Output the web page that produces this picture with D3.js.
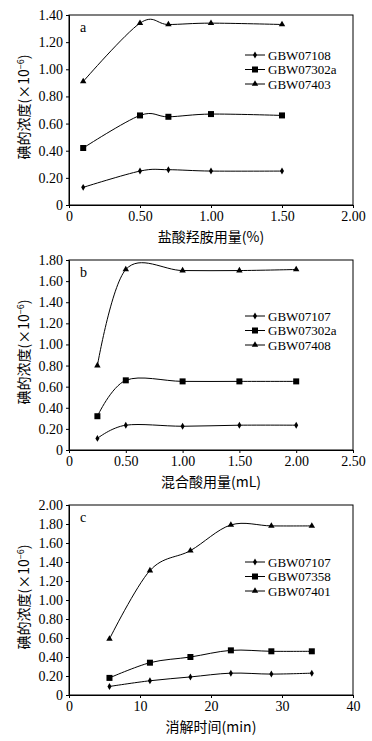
<!DOCTYPE html>
<html>
<head>
<meta charset="utf-8">
<script src="https://cdn.jsdelivr.net/npm/d3@7"></script>
<style>
  body { margin: 0; background: #fff; }
  svg { display: block; }
</style>
</head>
<body>
<div id="chart"></div>
<script>
// panel a: 盐酸羟胺用量
var xA = [0.1, 0.5, 0.7, 1.0, 1.5]
var namesA = ['GBW07108', 'GBW07302a', 'GBW07403']
var valuesA = [
  [0.13, 0.25, 0.26, 0.25, 0.25],
  [0.42, 0.66, 0.65, 0.67, 0.66],
  [0.91, 1.34, 1.33, 1.34, 1.33]
]
var xTicksA = [0, 0.5, 1.0, 1.5, 2.0]
var yTicksA = [0, 0.2, 0.4, 0.6, 0.8, 1.0, 1.2, 1.4]

// panel b: 混合酸用量
var xB = [0.25, 0.5, 1.0, 1.5, 2.0]
var namesB = ['GBW07107', 'GBW07302a', 'GBW07408']
var valuesB = [
  [0.11, 0.235, 0.225, 0.235, 0.235],
  [0.32, 0.66, 0.65, 0.65, 0.65],
  [0.80, 1.71, 1.70, 1.70, 1.71]
]
var xTicksB = [0, 0.5, 1.0, 1.5, 2.0, 2.5]
var yTicksB = [0, 0.2, 0.4, 0.6, 0.8, 1.0, 1.2, 1.4, 1.6, 1.8]

// panel c: 消解时间
var xC = [5.7, 11.4, 17.1, 22.8, 28.5, 34.2]
var namesC = ['GBW07107', 'GBW07358', 'GBW07401']
var valuesC = [
  [0.09, 0.15, 0.19, 0.23, 0.22, 0.23],
  [0.18, 0.34, 0.40, 0.47, 0.46, 0.46],
  [0.59, 1.31, 1.52, 1.79, 1.78, 1.78]
]
var xTicksC = [0, 10, 20, 30, 40]
var yTicksC = [0, 0.2, 0.4, 0.6, 0.8, 1.0, 1.2, 1.4, 1.6, 1.8, 2.0]

var W = 372, H = 741
var serif = '"Liberation Serif", "DejaVu Serif", serif'
var cjk = '"Noto Sans CJK SC", sans-serif'

var svg = d3.select('#chart').append('svg')
  .attr('width', W)
  .attr('height', H)

var markers = ['diamond', 'square', 'triangle']

function marker(g, type, x, y) {
  if (type == 'diamond') {
    g.append('path')
      .attr('d', d3.symbol().type(d3.symbolDiamond).size(14)())
      .attr('transform', 'translate(' + x + ',' + y + ')')
      .attr('fill', '#000')
  } else if (type == 'square') {
    g.append('rect')
      .attr('x', x - 3).attr('y', y - 3)
      .attr('width', 6).attr('height', 6)
      .attr('fill', '#000')
  } else {
    g.append('path')
      .attr('d', d3.symbol().type(d3.symbolTriangle).size(18)())
      .attr('transform', 'translate(' + x + ',' + y + ')')
      .attr('fill', '#000')
  }
}

function panel(top, letter, xs, names, values, xTicks, yTicks, xFmt, xLabel, legendTop) {
  var left = 69, right = 353, h = 190
  var g = svg.append('g').attr('transform', 'translate(0,' + top + ')')

  var x = d3.scaleLinear()
    .domain([xTicks[0], xTicks[xTicks.length - 1]])
    .range([left, right])
  var y = d3.scaleLinear()
    .domain([0, yTicks[yTicks.length - 1]])
    .range([h, 0])

  // frame
  g.append('rect')
    .attr('x', left).attr('y', 0)
    .attr('width', right - left).attr('height', h)
    .attr('fill', 'none')
    .attr('stroke', '#000')
    .attr('stroke-width', 1)

  var ax = g.append('g')
    .attr('transform', 'translate(0,' + h + ')')
    .attr('font-family', serif)
    .attr('font-size', 14)
    .call(d3.axisBottom(x).tickValues(xTicks).tickSize(3).tickPadding(3).tickFormat(xFmt))
  ax.attr('font-family', serif).attr('font-size', 14)
  ax.selectAll('text').attr('fill', '#000')

  var ay = g.append('g')
    .attr('transform', 'translate(' + left + ',0)')
    .call(d3.axisLeft(y).tickValues(yTicks).tickSize(3).tickPadding(3)
      .tickFormat(function (d) { return d == 0 ? '0' : d3.format('.2f')(d) }))
  ay.attr('font-family', serif).attr('font-size', 14)
  ay.selectAll('text').attr('fill', '#000')
  g.selectAll('.domain').attr('stroke', '#000')

  var line = d3.line()
    .x(function (d, i) { return x(xs[i]) })
    .y(function (d) { return y(d) })
    .curve(d3.curveCatmullRom.alpha(0))

  values.forEach(function (vals, k) {
    g.append('path')
      .attr('d', line(vals))
      .attr('fill', 'none')
      .attr('stroke', '#000')
      .attr('stroke-width', 1)
    vals.forEach(function (v, i) {
      marker(g, markers[k], x(xs[i]), y(v))
    })
  })

  // panel letter
  g.append('text')
    .attr('x', 80).attr('y', 17)
    .attr('font-family', serif)
    .attr('font-size', 14)
    .text(letter)

  // legend
  names.forEach(function (n, k) {
    var ly = legendTop + k * 14.5
    g.append('line')
      .attr('x1', 245).attr('x2', 265)
      .attr('y1', ly).attr('y2', ly)
      .attr('stroke', '#000')
    marker(g, markers[k], 255, ly)
    g.append('text')
      .attr('x', 268).attr('y', ly + 4.5)
      .attr('font-family', serif)
      .attr('font-size', 13)
      .text(n)
  })

  // x label
  g.append('text')
    .attr('x', (left + right) / 2)
    .attr('y', h + 37)
    .attr('text-anchor', 'middle')
    .attr('font-family', cjk)
    .attr('font-size', 14)
    .text(xLabel)

  // y label
  var yl = g.append('text')
    .attr('transform', 'translate(29,' + (h / 2 - 3) + ') rotate(-90)')
    .attr('text-anchor', 'middle')
    .attr('font-family', cjk)
    .attr('font-size', 14)
  yl.append('tspan').text('碘的浓度(×10')
  yl.append('tspan').attr('dy', -5).attr('font-size', 9).text('−6')
  yl.append('tspan').attr('dy', 5).text(')')
}

var fmt2 = function (d) { return d == 0 ? '0' : d3.format('.2f')(d) }
var fmt0 = function (d) { return d3.format('d')(d) }

panel(15, 'a', xA, namesA, valuesA, xTicksA, yTicksA, fmt2, '盐酸羟胺用量(%)', 40)
panel(260, 'b', xB, namesB, valuesB, xTicksB, yTicksB, fmt2, '混合酸用量(mL)', 56)
panel(505, 'c', xC, namesC, valuesC, xTicksC, yTicksC, fmt0, '消解时间(min)', 57)
</script>
</body>
</html>
